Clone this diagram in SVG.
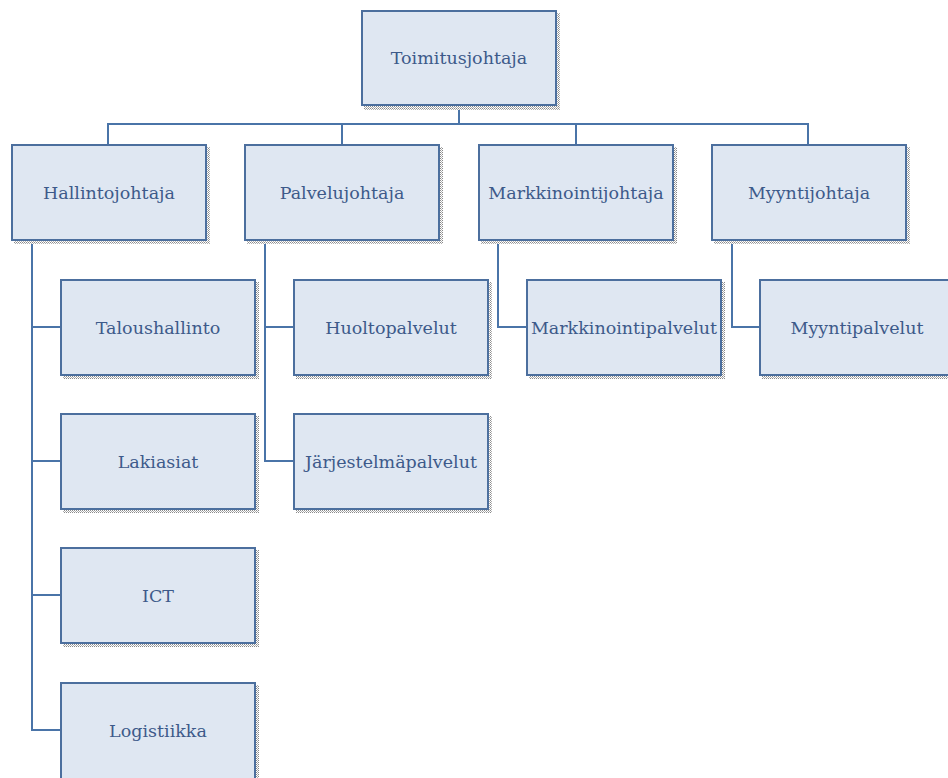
<svg xmlns="http://www.w3.org/2000/svg" width="948" height="778" viewBox="0 0 948 778">
<defs>
<pattern id="dots" width="2" height="2" patternUnits="userSpaceOnUse">
<rect width="2" height="2" fill="#ffffff"/>
<rect width="1" height="1" fill="#8a8a8a"/>
<rect x="1" y="1" width="1" height="1" fill="#b0b0b0"/>
</pattern>
</defs>
<style>
.sh{fill:url(#dots);}
.box{fill:#dfe7f2;stroke:#4c6f9e;stroke-width:2;}
.lbl{font-family:"DejaVu Serif","Liberation Serif",serif;font-size:17.5px;fill:#3d5a8a;text-anchor:middle;dominant-baseline:central;}
.con{fill:none;stroke:#4a74a8;stroke-width:2;}
</style>
<rect width="948" height="778" fill="#ffffff"/>
<g id="connectors">
<path class="con" d="M459 105V124M108 145V124H808V145M342 124V145M576 124V145"/>
<path class="con" d="M32 240V730H61M32 327H61M32 461H61M32 595H61"/>
<path class="con" d="M265 240V461H294M265 327H294"/>
<path class="con" d="M498 240V327H527"/>
<path class="con" d="M732 240V327H760"/>
</g>
<g id="n-toimitusjohtaja"><rect class="sh" x="364" y="13" width="196" height="97"/><rect class="box" x="362" y="11" width="194" height="94"/><text class="lbl" x="459" y="58">Toimitusjohtaja</text></g>
<g id="n-hallintojohtaja"><rect class="sh" x="14" y="147" width="196" height="97"/><rect class="box" x="12" y="145" width="194" height="95"/><text class="lbl" x="109" y="193">Hallintojohtaja</text></g>
<g id="n-palvelujohtaja"><rect class="sh" x="247" y="147" width="196" height="97"/><rect class="box" x="245" y="145" width="194" height="95"/><text class="lbl" x="342" y="193">Palvelujohtaja</text></g>
<g id="n-markkinointijohtaja"><rect class="sh" x="481" y="147" width="196" height="97"/><rect class="box" x="479" y="145" width="194" height="95"/><text class="lbl" x="576" y="193">Markkinointijohtaja</text></g>
<g id="n-myyntijohtaja"><rect class="sh" x="714" y="147" width="196" height="97"/><rect class="box" x="712" y="145" width="194" height="95"/><text class="lbl" x="809" y="193">Myyntijohtaja</text></g>
<g id="n-taloushallinto"><rect class="sh" x="63" y="282" width="196" height="97"/><rect class="box" x="61" y="280" width="194" height="95"/><text class="lbl" x="158" y="328">Taloushallinto</text></g>
<g id="n-lakiasiat"><rect class="sh" x="63" y="416" width="196" height="97"/><rect class="box" x="61" y="414" width="194" height="95"/><text class="lbl" x="158" y="462">Lakiasiat</text></g>
<g id="n-ict"><rect class="sh" x="63" y="550" width="196" height="97"/><rect class="box" x="61" y="548" width="194" height="95"/><text class="lbl" x="158" y="596">ICT</text></g>
<g id="n-logistiikka"><rect class="sh" x="63" y="685" width="196" height="97"/><rect class="box" x="61" y="683" width="194" height="97"/><text class="lbl" x="158" y="731">Logistiikka</text></g>
<g id="n-huoltopalvelut"><rect class="sh" x="296" y="282" width="196" height="97"/><rect class="box" x="294" y="280" width="194" height="95"/><text class="lbl" x="391" y="328">Huoltopalvelut</text></g>
<g id="n-jarjestelmapalvelut"><rect class="sh" x="296" y="416" width="196" height="97"/><rect class="box" x="294" y="414" width="194" height="95"/><text class="lbl" x="391" y="462">Järjestelmäpalvelut</text></g>
<g id="n-markkinointipalvelut"><rect class="sh" x="529" y="282" width="196" height="97"/><rect class="box" x="527" y="280" width="194" height="95"/><text class="lbl" x="624" y="328">Markkinointipalvelut</text></g>
<g id="n-myyntipalvelut"><rect class="sh" x="762" y="282" width="196" height="97"/><rect class="box" x="760" y="280" width="194" height="95"/><text class="lbl" x="857" y="328">Myyntipalvelut</text></g>
</svg>
